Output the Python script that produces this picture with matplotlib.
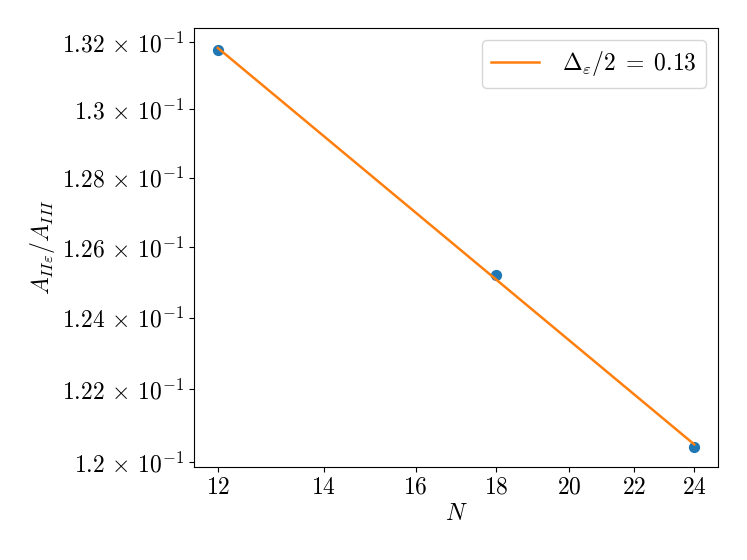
import numpy as np
import matplotlib
matplotlib.use("Agg")
import matplotlib.pyplot as plt
from matplotlib.ticker import FixedLocator, FixedFormatter, NullLocator

plt.rcParams['mathtext.fontset'] = 'cm'
plt.rcParams['font.family'] = 'serif'
plt.rcParams['font.serif'] = ['cmr10', 'DejaVu Serif']
plt.rcParams['axes.unicode_minus'] = False
plt.rcParams['font.size'] = 17

# data
N = np.array([12, 18, 24])
ratio = np.array([0.13177, 0.12520, 0.12041])

xticks = [12, 14, 16, 18, 20, 22, 24]
yticks = [0.120, 0.122, 0.124, 0.126, 0.128, 0.130, 0.132]
ytick_labels = ["1.2", "1.22", "1.24", "1.26", "1.28", "1.3", "1.32"]

# power-law fit
p = np.polyfit(np.log(N), np.log(ratio), 1)
fit = np.exp(np.polyval(p, np.log(N)))

fig = plt.figure(figsize=(7.47, 5.6), dpi=100)
ax = fig.add_axes([194/747, 1-467/560, (718-194)/747, (467-28)/560])

ax.scatter(N, ratio, s=50, color='C0')
ax.plot(N, fit, color='C1', lw=1.8, label=r'$\Delta_\varepsilon/2\;=\;%.2f$' % (-p[0]))

ax.set_xscale('log')
ax.set_yscale('log')
ax.xaxis.set_major_locator(FixedLocator(xticks))
ax.xaxis.set_major_formatter(FixedFormatter(['$%d$' % t for t in xticks]))
ax.xaxis.set_minor_locator(NullLocator())
ax.yaxis.set_major_locator(FixedLocator(yticks))
ax.yaxis.set_major_formatter(FixedFormatter([r'$%s\,\times\,10^{-1}$' % s for s in ytick_labels]))
ax.yaxis.set_minor_locator(NullLocator())

ax.set_xlabel('$N$', labelpad=3)
ax.set_ylabel(r'$A_{II\varepsilon}/A_{III}$', labelpad=4)
ax.legend(loc='upper right', handletextpad=1.0)

fig.savefig('out.png', dpi=100)
